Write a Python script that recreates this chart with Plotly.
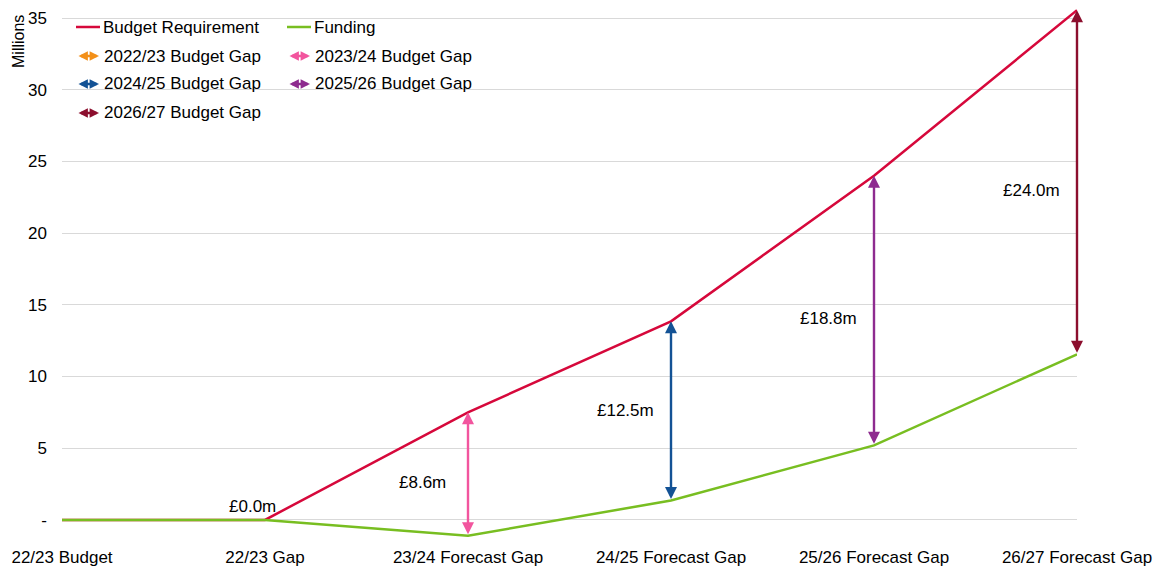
import plotly.graph_objects as go

categories = ["22/23 Budget", "22/23 Gap", "23/24 Forecast Gap", "24/25 Forecast Gap",
              "25/26 Forecast Gap", "26/27 Forecast Gap"]
budget_requirement = [0.0, 0.0, 7.5, 13.85, 24.0, 35.55]
funding = [0.0, 0.0, -1.1, 1.35, 5.2, 11.55]
gap_labels = ["£0.0m", "£8.6m", "£12.5m", "£18.8m", "£24.0m"]
gap_names = ["2022/23 Budget Gap", "2023/24 Budget Gap", "2024/25 Budget Gap",
             "2025/26 Budget Gap", "2026/27 Budget Gap"]
gap_colors = ["#F39019", "#F2559E", "#135295", "#8E2B8F", "#8C0F2E"]
y_tickvals = [0, 5, 10, 15, 20, 25, 30, 35]
y_ticktext = ["-", "5", "10", "15", "20", "25", "30", "35"]

RED = "#D6083B"
GREEN = "#78BE21"
FONT = "Liberation Sans, Arial, sans-serif"
FS = 17

# page has an 8px body margin; work in page pixels and convert
OFF = 8
W, H = 1163 - OFF, 568 - OFF
L, R, T, B = 62 - OFF, 86, 0, 23
PW = W - L - R
PH = H - T - B

def px(xp):
    return (xp - OFF - L) / PW

def py(yp):
    return 1 - (yp - OFF - T) / PH

xs = list(range(len(categories)))

fig = go.Figure()
fig.add_trace(go.Scatter(x=xs, y=budget_requirement, mode="lines",
                         line=dict(color=RED, width=2.5), showlegend=False,
                         name="Budget Requirement", cliponaxis=False))
fig.add_trace(go.Scatter(x=xs, y=funding, mode="lines",
                         line=dict(color=GREEN, width=2.5), showlegend=False,
                         name="Funding", cliponaxis=False))

annotations = []
shapes = []

# gap arrows (one per gap, at categories 1..5)
for i in range(5):
    ci = i + 1
    top = budget_requirement[ci]
    bot = funding[ci]
    if abs(top - bot) > 1e-9:
        annotations.append(dict(x=ci, y=top, ax=ci, ay=bot, xref="x", yref="y",
                                axref="x", ayref="y", text="", showarrow=True,
                                arrowhead=2, startarrowhead=2, arrowside="end+start",
                                arrowsize=1.0, startarrowsize=1.0, arrowwidth=2.4,
                                arrowcolor=gap_colors[i], standoff=0, startstandoff=0))
    mid = (top + bot) / 2
    if i == 0:
        annotations.append(dict(x=ci - 0.063, y=top, xref="x", yref="y", text=gap_labels[i],
                                showarrow=False, yshift=13,
                                font=dict(family=FONT, size=FS, color="#000000")))
    else:
        annotations.append(dict(x=ci - 0.225, y=mid, xref="x", yref="y", text=gap_labels[i],
                                showarrow=False, yshift=-8 if i != 2 else 0,
                                font=dict(family=FONT, size=FS, color="#000000")))

# custom legend
shapes.append(dict(type="rect", xref="paper", yref="paper", x0=px(64), x1=px(482),
                   y0=py(125), y1=py(8), fillcolor="white", line=dict(width=0), layer="below"))
legend_items = [
    ("line", RED, "Budget Requirement", 76, 27),
    ("line", GREEN, "Funding", 287, 27),
    ("arrow", gap_colors[0], gap_names[0], 77, 56),
    ("arrow", gap_colors[1], gap_names[1], 288, 56),
    ("arrow", gap_colors[2], gap_names[2], 77, 84),
    ("arrow", gap_colors[3], gap_names[3], 288, 84),
    ("arrow", gap_colors[4], gap_names[4], 77, 113),
]
for kind, col, name, x0, yc in legend_items:
    if kind == "line":
        shapes.append(dict(type="line", xref="paper", yref="paper", x0=px(x0), x1=px(x0 + 24),
                           y0=py(yc), y1=py(yc), line=dict(color=col, width=2.5)))
    else:
        annotations.append(dict(x=px(x0 + 22), y=py(yc), ax=-22, ay=0,
                                xref="paper", yref="paper", axref="pixel", ayref="pixel",
                                text="", showarrow=True, arrowhead=2, startarrowhead=2,
                                arrowside="end+start", arrowsize=0.75, startarrowsize=0.75,
                                arrowwidth=2.5, arrowcolor=col, standoff=0, startstandoff=0))
    annotations.append(dict(x=px(x0 + 25), y=py(yc), xref="paper", yref="paper", text=name,
                            showarrow=False, xanchor="left", yanchor="middle",
                            font=dict(family=FONT, size=FS, color="#000000")))

# axis title
annotations.append(dict(x=px(18), y=py(42), xref="paper", yref="paper", text="Millions",
                        showarrow=False, textangle=-90, xanchor="center", yanchor="middle",
                        font=dict(family=FONT, size=16, color="#000000")))

fig.update_layout(
    width=W, height=H,
    margin=dict(l=L, r=R, t=T, b=B, autoexpand=False),
    paper_bgcolor="white", plot_bgcolor="white",
    showlegend=False,
    font=dict(family=FONT, size=FS, color="#000000"),
    xaxis=dict(range=[0, 5], tickvals=xs, ticktext=categories, showgrid=False,
               zeroline=False, showline=False, ticks="", automargin=False,
               tickfont=dict(family=FONT, size=FS, color="#000000")),
    yaxis=dict(range=[-1.75, 35.7], tickvals=y_tickvals, ticktext=y_ticktext,
               showgrid=True, gridcolor="#D9D9D9", gridwidth=1, zeroline=False,
               showline=False, ticks="", automargin=False, ticklabelstandoff=14,
               tickfont=dict(family=FONT, size=FS, color="#000000")),
    annotations=annotations,
    shapes=shapes,
)

fig.write_html("out.html")
